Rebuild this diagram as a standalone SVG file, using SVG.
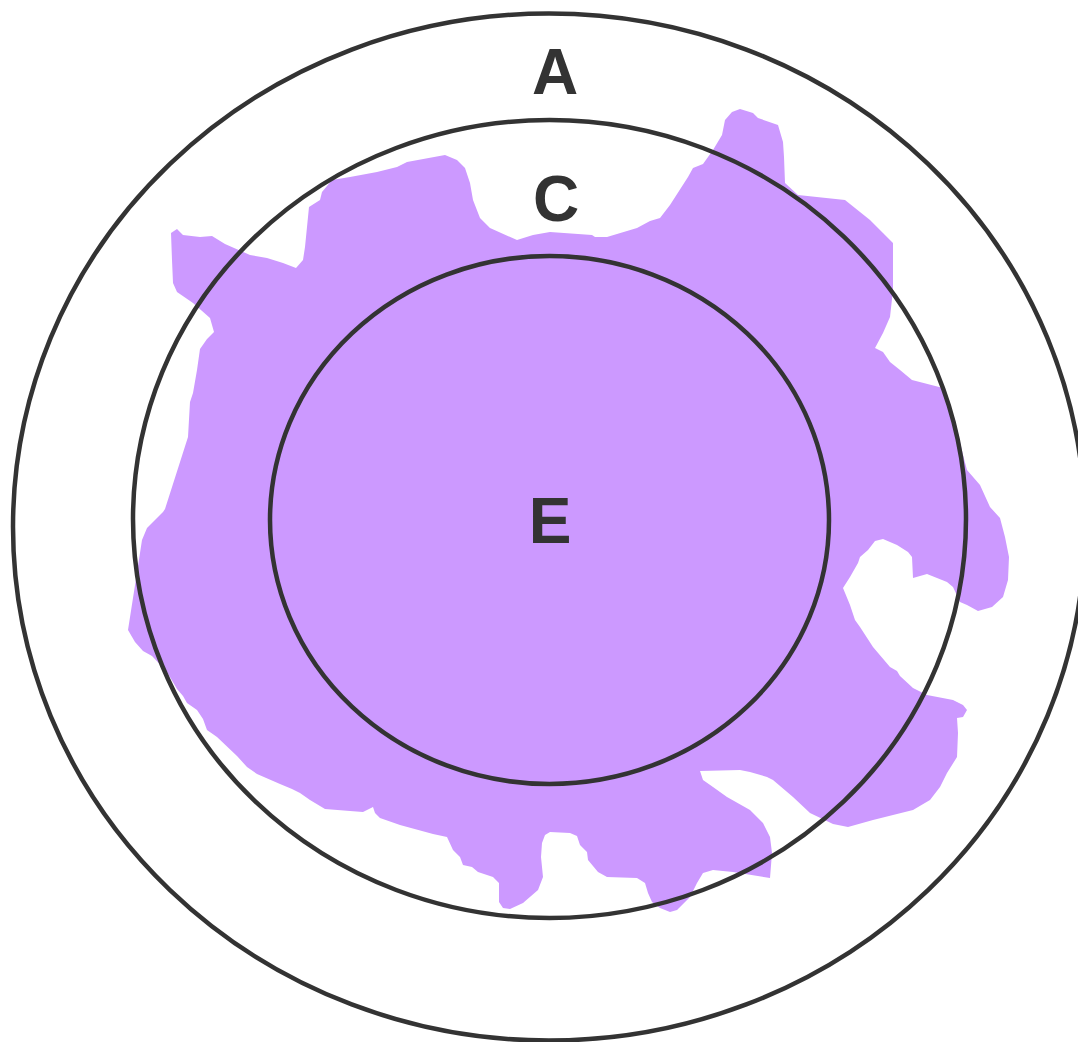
<svg xmlns="http://www.w3.org/2000/svg" width="1078" height="1042" viewBox="0 0 1078 1042">
<style>
.ring{fill:none;stroke:#333333;stroke-width:4.5}
.lbl{font-family:"Liberation Sans",Arial,sans-serif;font-weight:bold;font-size:64px;fill:#333333;text-anchor:middle}
</style>
<rect width="1078" height="1042" fill="#ffffff"/>
<g id="blob">
<path fill="#cc99ff" stroke="none" stroke-linejoin="round" d="M171,233 L177,229 L183,235 L200,237 L212,236 L225,244 L250,255 L267,258 L283,263 L296,268 L303,260 L305,247 L307,227 L309,207 L320,200 L322,192 L332,180 L350,177 L377,172 L397,167 L407,162 L445,155 L457,160 L465,168 L470,183 L473,200 L480,218 L490,228 L517,240 L533,235 L550,232 L592,235 L595,237 L607,237 L637,228 L650,221 L660,218 L670,205 L688,177 L693,168 L703,164 L713,150 L722,135 L725,120 L732,112 L740,109 L753,113 L758,118 L778,125 L783,142 L784,157 L785,183 L798,195 L845,200 L870,220 L883,233 L893,243 L893,290 L890,317 L883,333 L875,348 L883,352 L890,362 L900,370 L912,380 L943,388 L955,420 L963,455 L967,470 L980,485 L990,507 L1000,518 L1005,537 L1009,557 L1008,580 L1003,597 L992,607 L978,611 L967,605 L960,602 L953,587 L947,582 L927,574 L913,578 L912,557 L908,552 L897,545 L883,539 L875,541 L868,550 L860,557 L858,563 L850,577 L843,588 L850,605 L855,620 L860,627 L873,647 L890,667 L897,671 L900,676 L913,688 L927,695 L953,700 L963,705 L967,710 L963,717 L957,718 L958,733 L957,757 L947,773 L940,787 L930,800 L913,810 L893,815 L873,820 L848,827 L833,824 L810,813 L793,797 L773,780 L767,777 L750,772 L740,770 L700,771 L703,780 L713,787 L727,797 L750,810 L763,823 L770,837 L772,853 L770,878 L733,872 L713,870 L703,873 L697,883 L690,897 L677,910 L670,912 L660,908 L652,902 L648,893 L645,883 L637,878 L607,877 L598,872 L588,860 L587,852 L580,845 L577,836 L570,833 L550,832 L545,835 L542,843 L541,857 L543,877 L538,890 L523,903 L510,909 L503,908 L499,902 L499,883 L493,877 L478,872 L472,867 L463,865 L460,857 L453,850 L447,837 L433,834 L400,825 L380,818 L375,813 L373,807 L367,810 L363,812 L350,811 L325,809 L310,800 L300,793 L292,789 L280,784 L257,774 L247,767 L237,756 L217,737 L207,730 L203,719 L197,710 L187,703 L183,696 L177,689 L167,672 L152,656 L143,651 L135,642 L128,630 L133,598 L140,553 L142,540 L147,528 L163,512 L165,509 L188,437 L190,402 L193,393 L197,370 L200,349 L207,339 L214,332 L210,318 L193,303 L177,292 L173,283 L172,260 Z"/>
</g>
<g id="A">
<ellipse class="ring" cx="549" cy="527" rx="536" ry="513.5"/>
<text class="lbl" x="555" y="94">A</text>
</g>
<g id="C">
<ellipse class="ring" cx="549.5" cy="519" rx="416.5" ry="399"/>
<text class="lbl" x="556" y="221">C</text>
</g>
<g id="E">
<ellipse class="ring" cx="549.5" cy="520" rx="279.5" ry="264"/>
<text class="lbl" x="550" y="543">E</text>
</g>
<g id="connectors"></g>
</svg>
